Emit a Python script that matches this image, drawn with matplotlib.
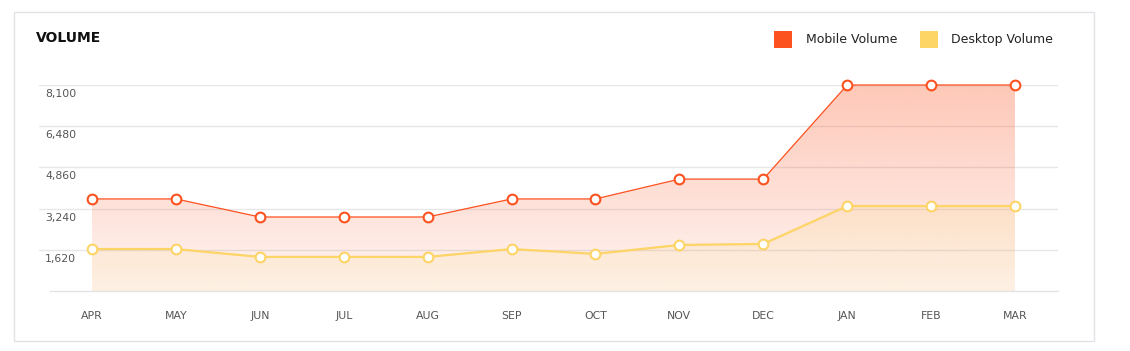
import numpy as np
import matplotlib
matplotlib.use("Agg")
from matplotlib import pyplot as plt
from matplotlib.patches import Rectangle, Polygon

months = ["APR", "MAY", "JUN", "JUL", "AUG", "SEP", "OCT", "NOV", "DEC", "JAN", "FEB", "MAR"]
mobile = [3620, 3620, 2910, 2910, 2910, 3620, 3620, 4400, 4400, 8100, 8100, 8100]
desktop = [1650, 1650, 1340, 1340, 1340, 1650, 1460, 1810, 1850, 3340, 3340, 3340]
yticks = [1620, 3240, 4860, 6480, 8100]
ytick_labels = ["1,620", "3,240", "4,860", "6,480", "8,100"]

mobile_color = "#fc5220"
desktop_color = "#fdd466"

W, H = 1130, 351
fig = plt.figure(figsize=(W / 100, H / 100), dpi=100)

# card border
fig.patches.append(Rectangle((14 / W, 1 - 341 / H), 1080 / W, 329 / H, transform=fig.transFigure,
                             fill=False, edgecolor="#e2e3e8", linewidth=1.0))

# axes placed in pixel terms
left, right, top, bottom = 39, 1058, 85, 291
ax = fig.add_axes([left / W, 1 - bottom / H, (right - left) / W, (bottom - top) / H])
x = np.arange(len(months))
px = (1015 - 92) / 11
ax.set_xlim(0 - (92 - left) / px, 11 + (right - 1015) / px)
ax.set_ylim(0, 8100)
for s in ax.spines.values():
    s.set_visible(False)
ax.set_xticks([])
ax.set_yticks([])

# gridlines and labels
for v, lab in zip(yticks, ytick_labels):
    ax.axhline(v, color="#e6e7ea", linewidth=1.0, zorder=0)
    ax.annotate(lab, xy=(0, v), xycoords=("axes fraction", "data"), xytext=(6, -9),
                textcoords="offset pixels", ha="left", va="center", fontsize=7.8, color="#555555")
x0 = ax.get_xlim()[0] + 11 / px
ax.plot([x0, ax.get_xlim()[1]], [0, 0], color="#e2e3e6", linewidth=1.0, zorder=0, clip_on=False)

for i, m in enumerate(months):
    ax.annotate(m, xy=(i, 0), xycoords="data", xytext=(0, -25), textcoords="offset pixels",
                ha="center", va="center", fontsize=7.8, color="#555555")


def gradient_fill(ys, color, a_top, a_bot, z):
    rgb = matplotlib.colors.to_rgb(color)
    n = 256
    img = np.zeros((n, 2, 4))
    img[:, :, 0], img[:, :, 1], img[:, :, 2] = rgb
    alphas = np.linspace(a_top, a_bot, n)
    img[:, :, 3] = alphas[:, None]
    im = ax.imshow(img, extent=[0, 11, 0, 8100], aspect="auto", origin="upper", zorder=z,
                   interpolation="bilinear")
    poly = Polygon(list(zip(x, ys)) + [(11, 0), (0, 0)], closed=True, transform=ax.transData,
                   facecolor="none", edgecolor="none")
    ax.add_patch(poly)
    im.set_clip_path(poly)


gradient_fill(mobile, mobile_color, 0.32, 0.06, 1)
gradient_fill(desktop, desktop_color, 0.22, 0.10, 2)
ax.set_xlim(0 - (92 - left) / px, 11 + (right - 1015) / px)
ax.set_ylim(0, 8100)

ax.plot(x, mobile, color=mobile_color, linewidth=0.9, zorder=3, clip_on=False,
        marker="o", markersize=7, markerfacecolor="white", markeredgecolor=mobile_color,
        markeredgewidth=1.5)
ax.plot(x, desktop, color=desktop_color, linewidth=1.6, zorder=3, clip_on=False,
        marker="o", markersize=7, markerfacecolor="white", markeredgecolor=desktop_color,
        markeredgewidth=1.5)

# title
fig.text(36 / W, 1 - 38 / H, "VOLUME", fontsize=10, fontweight="heavy", color="#111111",
         ha="left", va="center")

# legend
for sx, tx, col, lab in [(774, 806, mobile_color, "Mobile Volume"),
                         (920, 951, desktop_color, "Desktop Volume")]:
    fig.patches.append(Rectangle((sx / W, 1 - 48 / H), 18 / W, 17 / H, transform=fig.transFigure,
                                 facecolor=col, edgecolor="none"))
    fig.text(tx / W, 1 - 39.5 / H, lab, fontsize=9, color="#222222", ha="left", va="center")

fig.savefig("out.png", dpi=100)
